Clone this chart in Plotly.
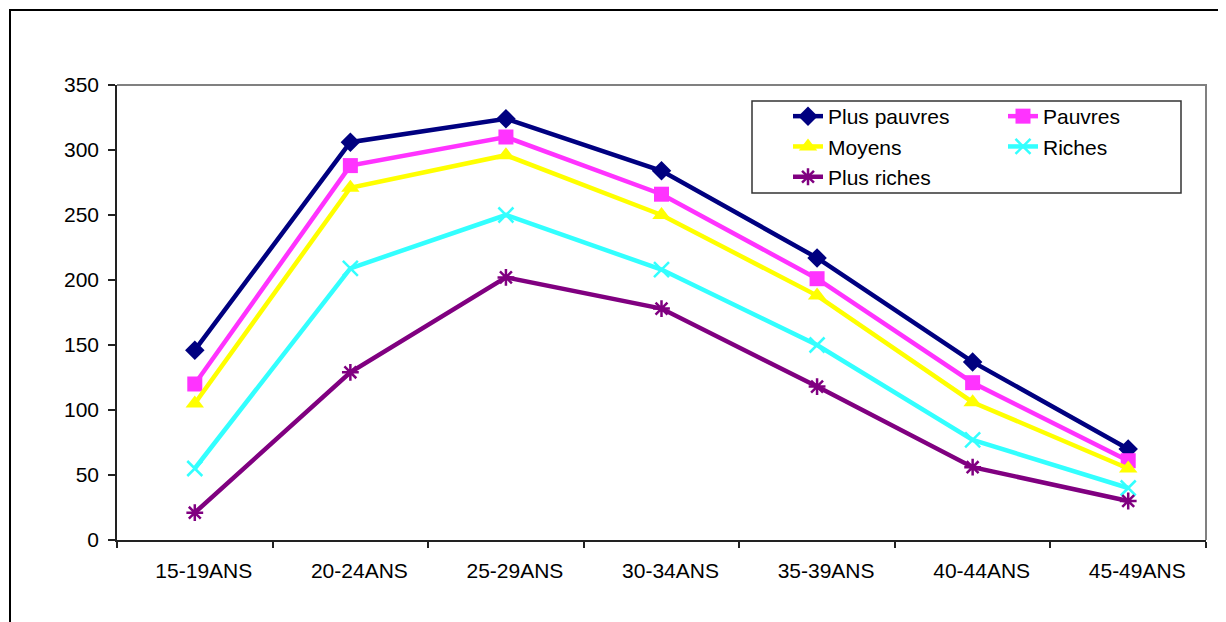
import plotly.graph_objects as go

categories = ["15-19ANS", "20-24ANS", "25-29ANS", "30-34ANS", "35-39ANS", "40-44ANS", "45-49ANS"]
plus_pauvres = [146, 306, 324, 284, 217, 137, 70]
pauvres = [120, 288, 310, 266, 201, 121, 61]
moyens = [105, 271, 296, 250, 188, 106, 55]
riches = [55, 209, 250, 208, 150, 77, 40]
plus_riches = [21, 129, 202, 178, 118, 56, 30]
y_ticks = [0, 50, 100, 150, 200, 250, 300, 350]

FONT = "Liberation Sans, Arial, sans-serif"

series = [
    ("Plus pauvres", plus_pauvres, "#000080", "diamond", 15, 0, "legend"),
    ("Pauvres", pauvres, "#FF33FF", "square", 15, 0, "legend2"),
    ("Moyens", moyens, "#FFFF00", "triangle-up", 16, 0, "legend"),
    ("Riches", riches, "#33FFFF", "x-thin-open", 15, 2.5, "legend2"),
    ("Plus riches", plus_riches, "#800080", "asterisk-open", 14, 2.5, "legend"),
]

fig = go.Figure()
for name, vals, color, sym, size, lw, leg in series:
    marker = dict(symbol=sym, size=size, color=color)
    if lw:
        marker["line"] = dict(color=color, width=lw)
    fig.add_trace(go.Scatter(
        x=categories, y=vals, name=name, mode="lines+markers",
        line=dict(color=color, width=4.5), marker=marker, legend=leg,
    ))

# page body has an 8px margin; the figure is sized/offset to compensate
OFF = 8
W, H = 1226 - OFF, 622 - OFF
L, R, T, B = 117 - OFF, 20, 85 - OFF, 82
pw, ph = W - L - R, H - T - B

def px(x):
    return (x - OFF - L) / pw

def py(y):
    return (H - B - (y - OFF)) / ph

legend_common = dict(
    font=dict(family=FONT, size=21, color="black"),
    bgcolor="rgba(0,0,0,0)", borderwidth=0,
    xanchor="left", yanchor="top", traceorder="normal",
    itemclick=False, itemdoubleclick=False,
)

fig.update_layout(
    width=W, height=H,
    margin=dict(l=L, r=R, t=T, b=B),
    paper_bgcolor="white", plot_bgcolor="white",
    font=dict(family=FONT, size=21, color="black"),
    showlegend=True,
    legend=dict(x=px(788), y=py(96), **legend_common),
    legend2=dict(x=px(1003), y=py(96), **legend_common),
    xaxis=dict(
        type="category", range=[-0.5, 6.5], tickson="boundaries",
        ticks="outside", ticklen=6, tickcolor="#222", tickwidth=1.5,
        showline=True, linecolor="#222", linewidth=1.5, showgrid=False,
        zeroline=False, ticklabelshift=9, ticklabelstandoff=11,
        tickfont=dict(family=FONT, size=21, color="black"),
    ),
    yaxis=dict(
        range=[0, 350], tickvals=y_ticks, ticks="outside", ticklen=7,
        tickcolor="#222", tickwidth=1.5, showline=True, linecolor="#222",
        linewidth=1.5, showgrid=False, zeroline=False, ticklabelstandoff=5,
        tickfont=dict(family=FONT, size=21, color="black"),
    ),
    shapes=[
        # plot area border top & right (gray)
        dict(type="path", xref="paper", yref="paper", path="M 0,1 L 1,1 L 1,0",
             line=dict(color="#808080", width=2), layer="below"),
        # legend box
        dict(type="rect", xref="paper", yref="paper",
             x0=px(752), x1=px(1181), y0=py(193), y1=py(101),
             line=dict(color="#333", width=1.5), fillcolor="white", layer="below"),
        # outer chart frame
        dict(type="rect", xref="paper", yref="paper",
             x0=px(10), x1=px(1240), y0=py(640), y1=py(10),
             line=dict(color="black", width=2), layer="below"),
    ],
)

fig.write_html("out.html")
